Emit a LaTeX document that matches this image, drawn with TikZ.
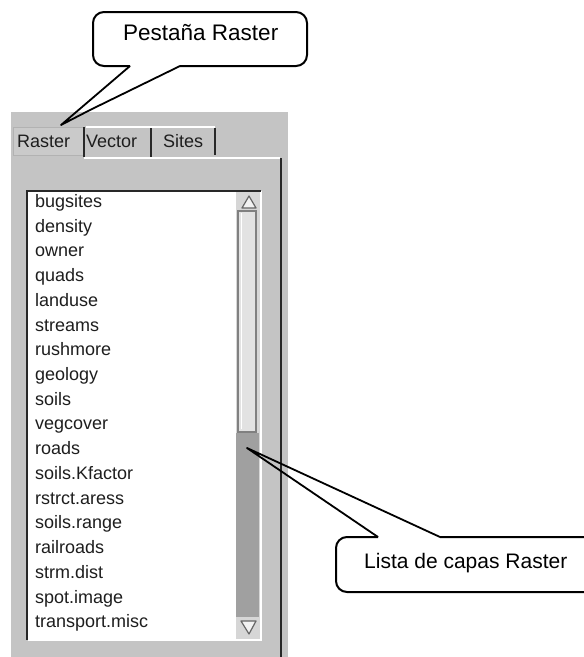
\documentclass[tikz,border=0pt]{standalone}
\usepackage{fontspec}
\setmainfont{Liberation Sans}
\definecolor{panelgray}{RGB}{196,196,196}
\definecolor{darkedge}{RGB}{40,40,40}
\definecolor{thumbgray}{RGB}{214,214,214}
\definecolor{trackgray}{RGB}{160,160,160}
\definecolor{textgray}{RGB}{30,30,30}
\tikzset{
  listitem/.style={anchor=base west, inner sep=0pt, text=textgray,
    font=\fontsize{18}{20}\selectfont},
  tablabel/.style={anchor=base west, inner sep=0pt, text=textgray,
    font=\fontsize{18}{20}\selectfont},
  callouttext/.style={anchor=base west, inner sep=0pt, text=black,
    font=\fontsize{21}{24}\selectfont},
  calloutline/.style={draw=black, line width=2pt, rounded corners=11pt},
  tailline/.style={draw=black, line width=1.8pt, line join=round},
  darkrule/.style={draw=darkedge, line width=2pt},
  lightrule/.style={draw=white, line width=1.2pt},
}
\begin{document}
\begin{tikzpicture}[x=1pt, y=-1pt]
  \useasboundingbox (0,0) rectangle (584,657);
  \clip (0,0) rectangle (584,657);
  \fill[white] (0,0) rectangle (584,657);

  % --- window panel -------------------------------------------------
  \fill[panelgray] (11,112) rectangle (288,657);

  % tabs
  \draw[draw=gray!60, fill=panelgray!90!white, line width=1pt] (13,127) rectangle (83,155);
  \draw[darkrule] (83.5,127) -- (83.5,157);
  \draw[lightrule] (86,127) -- (215,127);
  \draw[darkrule] (151,128) -- (151,157);
  \draw[darkrule] (215,128) -- (215,155);
  \node[tablabel] (tabR) at (17,147) {Raster};
  \node[tablabel] (tabV) at (86,147) {Vector};
  \node[tablabel] (tabS) at (163,147) {Sites};

  % content frame
  \draw[lightrule] (84,158) -- (280,158);
  \draw[darkrule] (281,158) -- (281,657);

  % list box
  \fill[white] (28,191) rectangle (261,639);
  \draw[lightrule] (28,640) -- (261,640) -- (261,191);
  \draw[darkrule] (27,640) -- (27,191) -- (261,191);

  % scrollbar
  \fill[thumbgray] (236,192) rectangle (260,639);
  \fill[trackgray] (236,433) rectangle (259,617);
  \draw[draw=gray, line width=1.4pt, fill=thumbgray!70!white]
    (238,211) rectangle (256,432);
  \draw[draw=white, line width=1pt] (241,213) -- (241,429);
  \draw[draw=gray!80!black, line width=1.2pt, fill=white!90!gray, line join=round]
    (242,208) -- (249,196) -- (256,208) -- cycle;
  \draw[draw=gray!80!black, line width=1.2pt, fill=white!90!gray, line join=round]
    (241,621) -- (256,621) -- (249,634) -- cycle;

  % list entries
  \foreach \name [count=\k] in {bugsites, density, owner, quads, landuse,
      streams, rushmore, geology, soils, vegcover, roads, soils.Kfactor,
      rstrct.aress, soils.range, railroads, strm.dist, spot.image,
      transport.misc}
    \node[listitem] (item\k) at (35,{207.3+24.74*(\k-1)}) {\name};

  % --- callout: tab ---------------------------------------------------
  \fill[white, rounded corners=11pt] (93,12) rectangle (307,66);
  \draw[calloutline] (130,66) -- (93,66) -- (93,12) -- (307,12) -- (307,66) -- (180,66);
  \node[callouttext, font=\fontsize{22.5}{26}\selectfont] (tabnote) at (123,40) {Pestaña Raster};
  \coordinate (tabtip) at (61,125);
  \coordinate (tabbend) at (90,110);
  \draw[tailline] (130,66) -- (tabtip) -- (tabbend) -- (180,66);

  % --- callout: layer list ----------------------------------------------
  \fill[white, rounded corners=11pt] (336,537) rectangle (610,592);
  \draw[calloutline] (378,537) -- (336,537) -- (336,592) -- (610,592) -- (610,537) -- (440,537);
  \node[callouttext] (listnote) at (364,568) {Lista de capas Raster};
  \coordinate (listtip) at (247,448);
  \draw[tailline] (378,537) -- (listtip) -- (440,537);
\end{tikzpicture}
\end{document}
